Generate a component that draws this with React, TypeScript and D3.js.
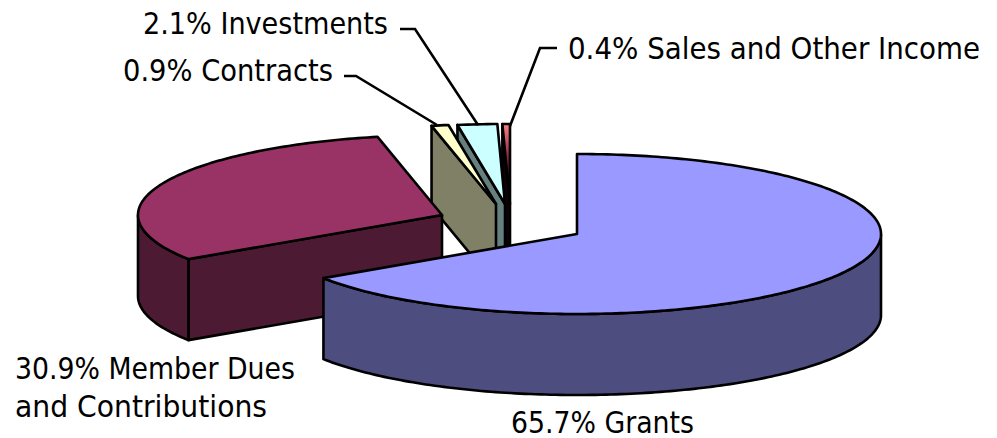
import React, { useEffect, useRef } from "react";
import * as d3 from "d3";

const categories = ["Grants", "Member Dues and Contributions", "Contracts", "Investments", "Sales and Other Income"];
const shares = [65.7, 30.9, 0.9, 2.1, 0.4];
const shareLabels = ["65.7%", "30.9%", "0.9%", "2.1%", "0.4%"];
const topColors = ["#9999ff", "#993366", "#ffffcc", "#ccffff", "url(#salesTop)"];
const sideColors = ["#4d4d80", "#4d1a33", "#808066", "#668080", "#100008"];

const RX = 304, RY = 80, DEPTH = 81;
// apex of every exploded slice on the page
const apexes: [number, number][] = [[577, 234], [442, 215], [496, 204], [505, 204], [510, 204]];
const paintOrder = [4, 3, 2, 1, 0];

const labelLayout = [
  { lines: [[`${shareLabels[0]} ${categories[0]}`, 183]], x: 511, y: 433 },
  { lines: [[`${shareLabels[1]} Member Dues`, 280], ["and Contributions", 252]], x: 15, y: 379 },
  { lines: [[`${shareLabels[2]} ${categories[2]}`, 210]], x: 123, y: 81 },
  { lines: [[`${shareLabels[3]} ${categories[3]}`, 245]], x: 143, y: 34 },
  { lines: [[`${shareLabels[4]} Sales and Other Income`, 412]], x: 568, y: 59 },
];
const leaders: [number, number][][] = [
  [[344, 76], [356, 76], [437, 125]],
  [[400, 29], [415, 29], [478, 125]],
  [[557, 48], [540, 48], [510, 126]],
];

export default function App() {
  const ref = useRef<SVGSVGElement>(null);
  useEffect(() => {
    const svg = d3.select(ref.current!);
    svg.selectAll("*").remove();
    const grad = svg.append("defs").append("linearGradient").attr("id", "salesTop")
      .attr("x1", 0).attr("y1", 0).attr("x2", 0).attr("y2", 1);
    grad.append("stop").attr("offset", "0%").attr("stop-color", "#ff8080");
    grad.append("stop").attr("offset", "45%").attr("stop-color", "#802040");
    grad.append("stop").attr("offset", "75%").attr("stop-color", "#200010");
    grad.append("stop").attr("offset", "100%").attr("stop-color", "#501050");

    const arcs = d3.pie<number>().sort(null).startAngle(0).endAngle(2 * Math.PI)(shares);
    const line = d3.line<[number, number]>();
    const g = svg.append("g").attr("stroke", "#000").attr("stroke-width", 2.6).attr("stroke-linejoin", "round");

    paintOrder.forEach((i) => {
      const a = arcs[i];
      const [cx, cy] = apexes[i];
      const px = (t: number): [number, number] => [cx + RX * Math.sin(t), cy - RY * Math.cos(t)];
      const down = (p: [number, number]): [number, number] => [p[0], p[1] + DEPTH];
      const n = Math.max(2, Math.ceil((a.endAngle - a.startAngle) * 60));
      const rim = d3.range(n + 1).map((k) => px(a.startAngle + ((a.endAngle - a.startAngle) * k) / n));

      // cut face on the start side when it looks toward the viewer
      if (a.startAngle > Math.PI) {
        const s = rim[0];
        g.append("path").attr("fill", sideColors[i])
          .attr("d", line([[cx, cy], s, down(s), [cx, cy + DEPTH]]) + "Z");
      }
      // outer wall: only the part in the front half
      const front = rim.filter((_, k) => {
        const t = a.startAngle + ((a.endAngle - a.startAngle) * k) / n;
        return t >= Math.PI / 2 && t <= (3 * Math.PI) / 2;
      });
      if (front.length > 1) {
        g.append("path").attr("fill", sideColors[i])
          .attr("d", line([...front, ...front.slice().reverse().map(down)]) + "Z");
      }
      g.append("path").attr("fill", topColors[i])
        .attr("d", line([[cx, cy], ...rim]) + "Z");
    });

    svg.append("g").attr("fill", "none").attr("stroke", "#000").attr("stroke-width", 2.6)
      .selectAll("path").data(leaders).join("path").attr("d", (d) => line(d));

    const t = svg.append("g").attr("font-family", "'DejaVu Sans Condensed','DejaVu Sans',sans-serif").attr("font-size", 30.5).attr("fill", "#000");
    labelLayout.forEach((l) => {
      l.lines.forEach(([s, w], k) => {
        t.append("text").attr("x", l.x).attr("y", l.y + k * 38)
          .attr("textLength", w as number).attr("lengthAdjust", "spacingAndGlyphs").text(s as string);
      });
    });
  }, []);
  return (
    <svg ref={ref} width={997} height={438} style={{ position: "absolute", left: 0, top: 0, background: "#fff" }} />
  );
}
